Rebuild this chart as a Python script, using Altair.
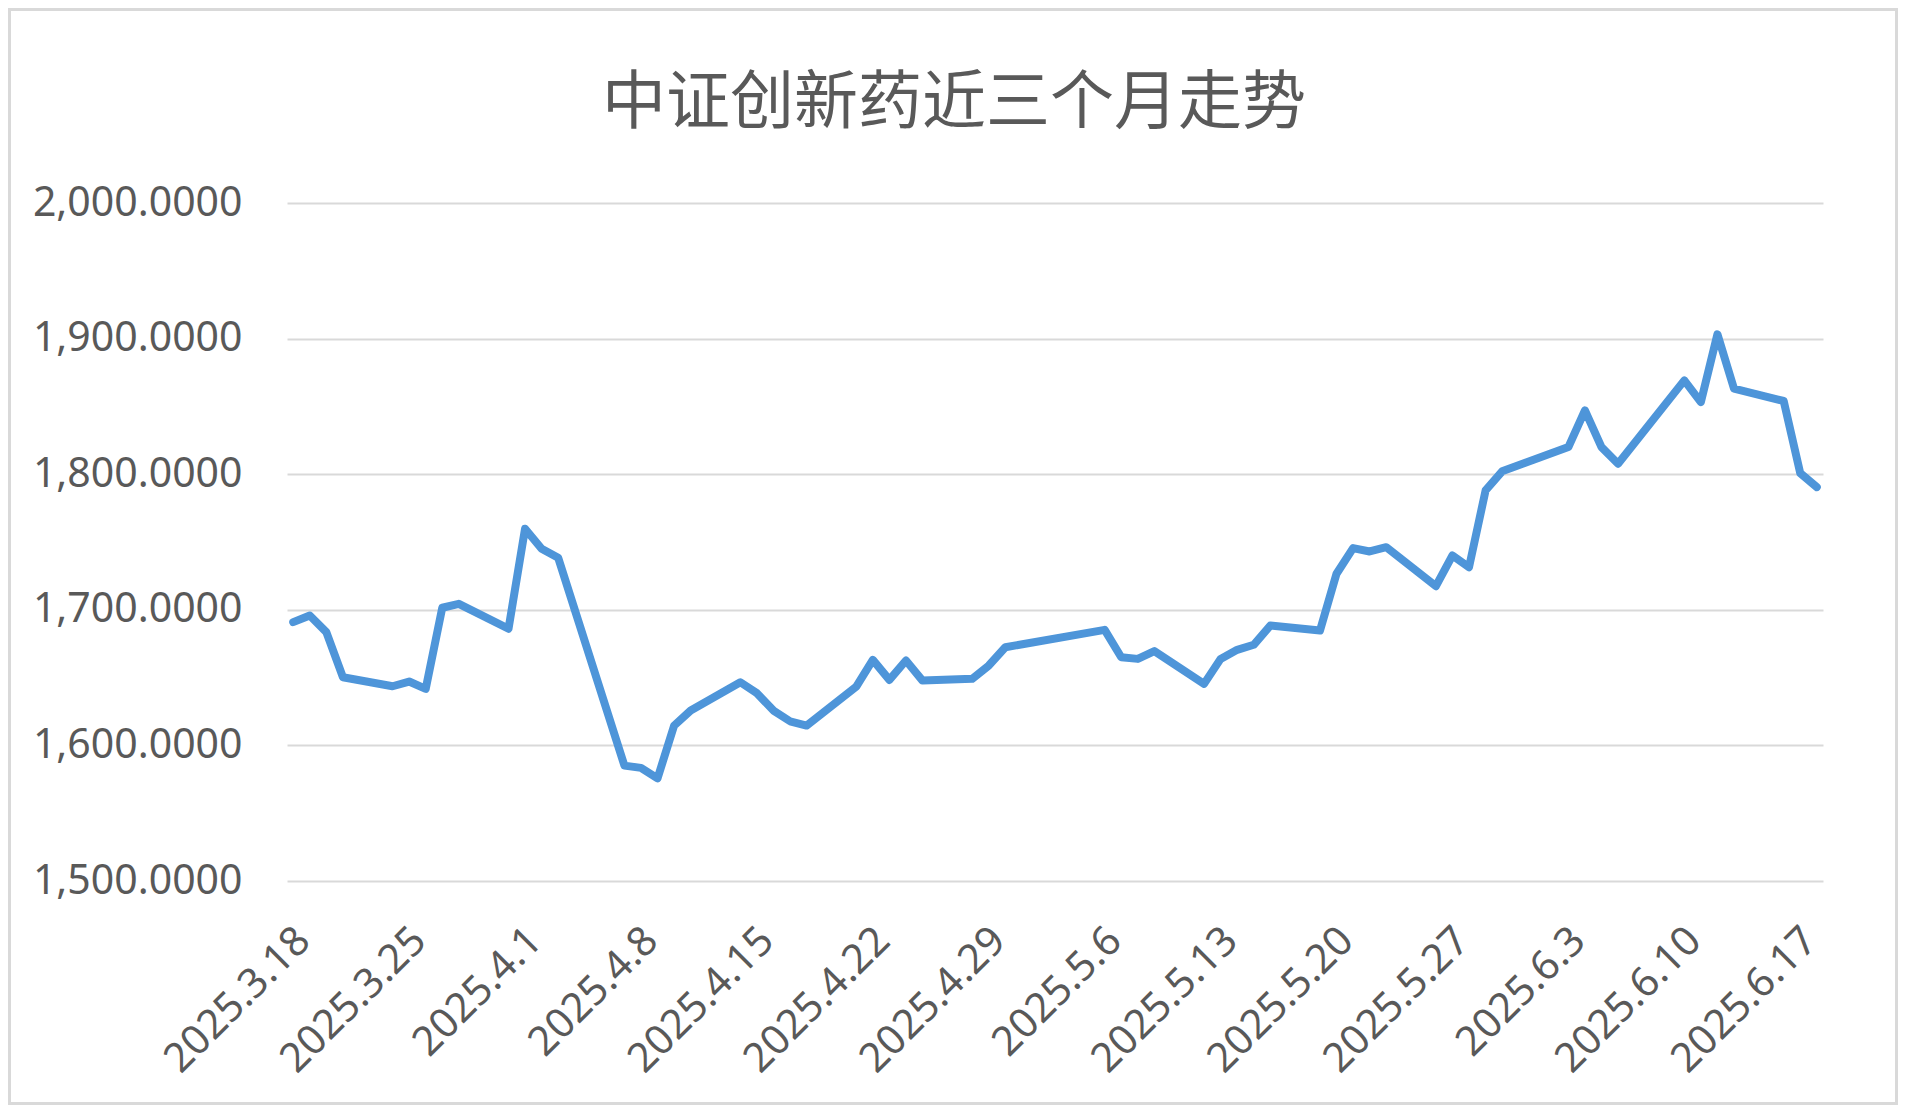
import altair as alt
import pandas as pd

# ---- data ----
dates = [
    "2025-03-18", "2025-03-19", "2025-03-20", "2025-03-21", "2025-03-24", "2025-03-25",
    "2025-03-26", "2025-03-27", "2025-03-28", "2025-03-31", "2025-04-01", "2025-04-02",
    "2025-04-03", "2025-04-07", "2025-04-08", "2025-04-09", "2025-04-10", "2025-04-11",
    "2025-04-14", "2025-04-15", "2025-04-16", "2025-04-17", "2025-04-18", "2025-04-21",
    "2025-04-22", "2025-04-23", "2025-04-24", "2025-04-25", "2025-04-28", "2025-04-29",
    "2025-04-30", "2025-05-06", "2025-05-07", "2025-05-08", "2025-05-09", "2025-05-12",
    "2025-05-13", "2025-05-14", "2025-05-15", "2025-05-16", "2025-05-19", "2025-05-20",
    "2025-05-21", "2025-05-22", "2025-05-23", "2025-05-26", "2025-05-27", "2025-05-28",
    "2025-05-29", "2025-05-30", "2025-06-03", "2025-06-04", "2025-06-05", "2025-06-06",
    "2025-06-10", "2025-06-11", "2025-06-12", "2025-06-13", "2025-06-16", "2025-06-17",
    "2025-06-18",
]
values = [
    1690.9, 1695.8, 1683.5, 1650.3, 1643.6, 1647.1,
    1641.7, 1701.5, 1704.4, 1686.0, 1759.8, 1745.0,
    1738.4, 1585.1, 1583.4, 1575.7, 1614.6, 1625.7,
    1646.6, 1638.5, 1625.7, 1617.8, 1614.6, 1643.4,
    1663.1, 1648.3, 1662.6, 1647.8, 1649.1, 1658.9,
    1672.4, 1685.2, 1665.0, 1663.8, 1669.5, 1645.4,
    1663.8, 1670.5, 1674.2, 1688.4, 1684.7, 1726.6,
    1745.5, 1743.0, 1746.2, 1717.4, 1740.1, 1731.4,
    1788.0, 1802.1, 1820.0, 1847.1, 1820.0, 1807.7,
    1869.2, 1853.2, 1903.2, 1863.1, 1854.0, 1800.8,
    1790.5,
]
tick_dates = [(3, 18), (3, 25), (4, 1), (4, 8), (4, 15), (4, 22), (4, 29),
              (5, 6), (5, 13), (5, 20), (5, 27), (6, 3), (6, 10), (6, 17)]
y_ticks = [1500, 1600, 1700, 1800, 1900, 2000]
title_text = "中证创新药近三个月走势"

df = pd.DataFrame({"date": [d + "T00:00:00" for d in dates], "value": values})

TEXT = "#595959"
GRID = "#d9d9d9"
W, H = 1536, 678
PAD = {"left": 279, "top": 195, "right": 75, "bottom": 224}

x = alt.X(
    "date:T",
    scale=alt.Scale(domain=[alt.DateTime(year=2025, month=3, date=17, hours=15),
                            alt.DateTime(year=2025, month=6, date=18, hours=9)]),
    axis=alt.Axis(
        values=[alt.DateTime(year=2025, month=m, date=d) for m, d in tick_dates],
        format="%Y.%-m.%-d",
        labelAngle=315, labelAlign="right", labelBaseline="top",
        labelPadding=39, labelOffset=-4, tickSize=0, labelLimit=600,
        labelFontSize=41, labelFont="Noto Sans", labelColor=TEXT,
        labelFlush=False, labelOverlap=False, labelBound=False,
        domain=False, ticks=False, grid=False, title=None,
    ),
)
y = alt.Y(
    "value:Q",
    scale=alt.Scale(domain=[1500, 2000], nice=False, zero=False),
    axis=alt.Axis(
        values=y_ticks, format=",.4f", labelLimit=600,
        labelFontSize=41, labelFont="Noto Sans", labelColor=TEXT,
        labelPadding=45, labelFlush=False, tickSize=0,
        domain=False, ticks=False, gridColor=GRID, gridWidth=2, title=None,
    ),
)

line = alt.Chart(df).mark_line(
    color="#4e95d9", strokeWidth=8, strokeCap="round", strokeJoin="round"
).encode(x=x, y=y)

frame = alt.Chart(pd.DataFrame({"k": [0]})).mark_rect(
    fillOpacity=0, stroke=GRID, strokeWidth=3
).encode(
    x=alt.value(-PAD["left"] + 1.5),
    x2=alt.value(W + PAD["right"] - 1.5),
    y=alt.value(-PAD["top"] + 1.5),
    y2=alt.value(H + PAD["bottom"] - 1.5),
)

chart = alt.layer(frame, line).properties(
    width=W, height=H,
    autosize=alt.AutoSizeParams(type="none"),
    padding=PAD,
    background="white",
    title=alt.TitleParams(
        text=title_text, font="Noto Sans CJK SC", fontSize=64, fontWeight="normal",
        color=TEXT, anchor="middle", dx=-101, offset=-179, baseline="alphabetic",
    ),
).configure_view(strokeWidth=0)

chart.save("out.html", embed_options={"renderer": "svg", "actions": False})
